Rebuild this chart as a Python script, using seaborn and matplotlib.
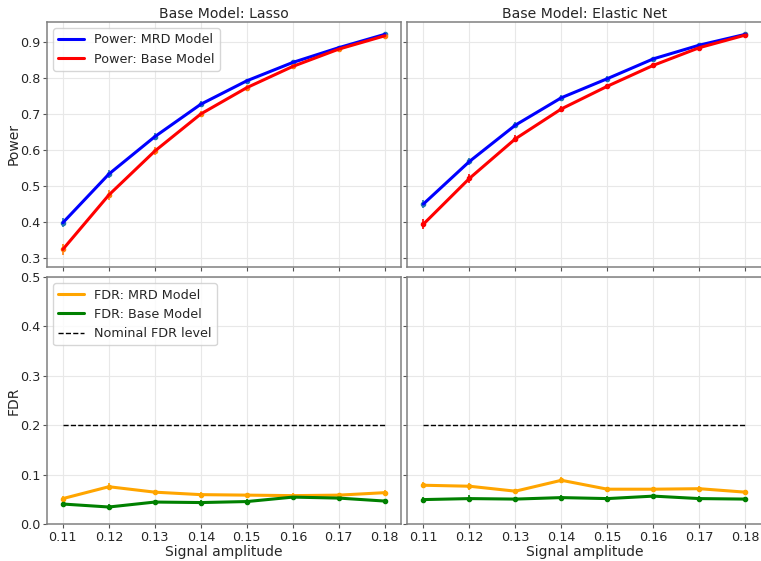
import matplotlib
matplotlib.use("Agg")
from matplotlib import pyplot as plt
import pandas as pd
import seaborn as sns

# signal amplitudes
amps = [0.11, 0.12, 0.13, 0.14, 0.15, 0.16, 0.17, 0.18]

# power, lasso base model
lasso_pow_mrd = [0.397, 0.532, 0.636, 0.726, 0.791, 0.842, 0.883, 0.920]
lasso_pow_base = [0.323, 0.474, 0.596, 0.699, 0.772, 0.831, 0.879, 0.916]
lasso_pow_mrd_err = [0.012, 0.011, 0.009, 0.008, 0.006, 0.005, 0.004, 0.003]
lasso_pow_base_err = [0.015, 0.013, 0.011, 0.009, 0.007, 0.005, 0.004, 0.003]

# power, elastic net base model
en_pow_mrd = [0.449, 0.567, 0.668, 0.744, 0.797, 0.852, 0.890, 0.920]
en_pow_base = [0.393, 0.520, 0.630, 0.713, 0.776, 0.834, 0.883, 0.918]
en_pow_mrd_err = [0.012, 0.011, 0.009, 0.008, 0.006, 0.005, 0.004, 0.003]
en_pow_base_err = [0.014, 0.012, 0.010, 0.008, 0.006, 0.005, 0.004, 0.003]

# fdr
lasso_fdr_mrd = [0.052, 0.076, 0.065, 0.060, 0.059, 0.058, 0.059, 0.064]
lasso_fdr_base = [0.041, 0.035, 0.045, 0.044, 0.046, 0.055, 0.053, 0.047]
en_fdr_mrd = [0.079, 0.077, 0.067, 0.089, 0.071, 0.071, 0.072, 0.065]
en_fdr_base = [0.050, 0.052, 0.051, 0.054, 0.052, 0.057, 0.052, 0.051]
fdr_err = [0.006, 0.007, 0.005, 0.006, 0.005, 0.005, 0.005, 0.005]
nominal_fdr = 0.2

sns.set_style("white")
plt.rcParams["font.family"] = ["DejaVu Sans"]

fig = plt.figure(figsize=(7.61, 5.61), dpi=100)
L, W = 0.0614, 0.4655
R = 0.5352
ax_pl = fig.add_axes([L, 0.5246, W, 0.4367])
ax_pe = fig.add_axes([R, 0.5246, W, 0.4367], sharey=ax_pl)
ax_fl = fig.add_axes([L, 0.0654, W, 0.4408], sharex=ax_pl)
ax_fe = fig.add_axes([R, 0.0654, W, 0.4408], sharey=ax_fl)


def draw(ax, y1, e1, y2, e2, c1, c2, ec1, ec2, l1, l2):
    df = pd.DataFrame({"amp": amps * 2, "val": y1 + y2,
                       "series": [l1] * len(amps) + [l2] * len(amps)})
    ax.errorbar(amps, y1, yerr=e1, fmt="o", ms=3, color=ec1, elinewidth=1.2, zorder=2)
    ax.errorbar(amps, y2, yerr=e2, fmt="o", ms=3, color=ec2, elinewidth=1.2, zorder=2)
    sns.lineplot(data=df, x="amp", y="val", hue="series", palette=[c1, c2],
                 linewidth=2.2, ax=ax, zorder=3)


draw(ax_pl, lasso_pow_mrd, lasso_pow_mrd_err, lasso_pow_base, lasso_pow_base_err,
     "blue", "red", "tab:blue", "tab:orange", "Power: MRD Model", "Power: Base Model")
draw(ax_pe, en_pow_mrd, en_pow_mrd_err, en_pow_base, en_pow_base_err,
     "blue", "red", "tab:blue", "red", "Power: MRD Model", "Power: Base Model")
draw(ax_fl, lasso_fdr_mrd, fdr_err, lasso_fdr_base, fdr_err,
     "orange", "green", "orange", "green", "FDR: MRD Model", "FDR: Base Model")
draw(ax_fe, en_fdr_mrd, fdr_err, en_fdr_base, fdr_err,
     "orange", "green", "orange", "green", "FDR: MRD Model", "FDR: Base Model")

for ax in (ax_fl, ax_fe):
    ax.plot(amps, [nominal_fdr] * len(amps), "k--", lw=1, label="Nominal FDR level")

ax_pl.set_title("Base Model: Lasso", fontsize=10.1, pad=2.5)
ax_pe.set_title("Base Model: Elastic Net", fontsize=10.1, pad=2.5)
ax_pl.set_ylim(0.275, 0.955)
ax_fl.set_ylim(0, 0.5)
for ax in (ax_pl, ax_pe, ax_fl, ax_fe):
    ax.set_xticks(amps)
    ax.set_xlim(0.1065, 0.1835)
    ax.grid(True, color="#e8e8e8", lw=0.8)
    ax.tick_params(labelsize=9.2, length=3, pad=1.8, color="#555555",
                   left=True, bottom=True)
    for s in ax.spines.values():
        s.set_color("#808080")
        s.set_linewidth(1.1)
    ax.set_xlabel("")
    ax.set_ylabel("")

ax_fl.set_xticklabels([f"{a:.2f}" for a in amps])
ax_fe.set_xticklabels([f"{a:.2f}" for a in amps])
ax_pl.tick_params(labelbottom=False)
ax_pe.tick_params(labelbottom=False, labelleft=False)
ax_fe.tick_params(labelleft=False)
ax_pl.set_ylabel("Power", fontsize=10)
ax_fl.set_ylabel("FDR", fontsize=10)
ax_pl.yaxis.set_label_coords(-0.074, 0.5)
ax_fl.yaxis.set_label_coords(-0.074, 0.5)
ax_fl.set_xlabel("Signal amplitude", fontsize=10, labelpad=0.5)
ax_fe.set_xlabel("Signal amplitude", fontsize=10, labelpad=0.5)

ax_pl.legend(loc="upper left", fontsize=9.2)
ax_fl.legend(loc="upper left", fontsize=9.2)
ax_pe.get_legend().remove()
ax_fe.get_legend().remove()

fig.savefig("out.png", dpi=100)
